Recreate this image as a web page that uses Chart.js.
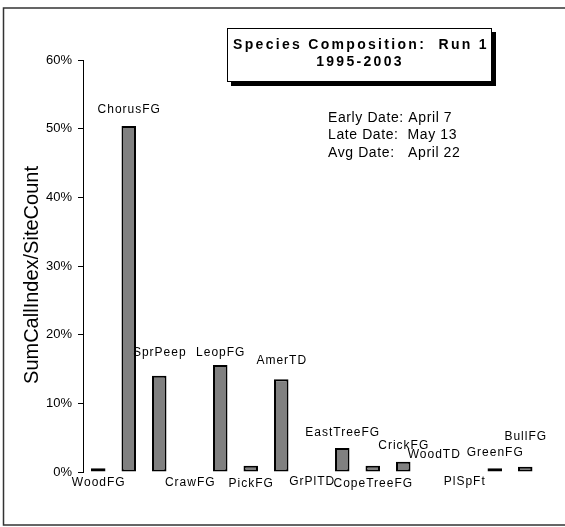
<!DOCTYPE html>
<html>
<head>
<meta charset="utf-8">
<script src="https://cdn.jsdelivr.net/npm/chart.js@4.4.1/dist/chart.umd.min.js"></script>
<style>
  html, body { margin: 0; padding: 0; background: #fff; }
  #wrap { width: 565px; height: 527px; }
</style>
</head>
<body>
<div id="wrap"><canvas id="speciesChart" width="565" height="527"></canvas></div>
<script>
var species = ['WoodFG', 'ChorusFG', 'SprPeep', 'CrawFG', 'LeopFG', 'PickFG', 'AmerTD', 'GrPlTD',
  'EastTreeFG', 'CopeTreeFG', 'CrickFG', 'WoodTD', 'PlSpFt', 'GreenFG', 'BullFG'];
var callIndexPct = [0.55, 50.4, 14.0, 0, 15.6, 0.9, 13.5, 0, 3.5, 0.9, 1.5, 0, 0, 0.55, 0.75];
var yTicks = [0, 10, 20, 30, 40, 50, 60];
var titleLines = ['Species Composition:  Run 1', '1995-2003'];
var dateNotes = ['Early Date: April 7', 'Late Date:  May 13', 'Avg Date:   April 22'];
var yTitle = 'SumCallIndex/SiteCount';

// label placement: below the zero line or above the bar, and the gap in px
var labelBelow = [true, false, false, true, false, true, false, true, false, true, false, false, true, false, false];
var labelGap = [11, 16, 23, 11, 12, 12, 19, 10, 15, 12, 16, 17, 10, 16, 30];

(function() {
  var FONT = "'Liberation Sans', Arial, sans-serif";

  // 外枠と背景
  var framePlugin = {
    id: 'frame',
    beforeDraw: function(chart) {
      var ctx = chart.ctx;
      ctx.save();
      ctx.fillStyle = '#fff';
      ctx.fillRect(0, 0, chart.width, chart.height);
      ctx.strokeStyle = '#333';
      ctx.lineWidth = 1.5;
      ctx.strokeRect(3.5, 8, chart.width + 10, 517);
      ctx.restore();
    }
  };

  var notesPlugin = {
    id: 'notes',
    afterDraw: function(chart) {
      var ctx = chart.ctx;
      var area = chart.chartArea;
      ctx.save();

      // title box with drop shadow
      ctx.fillStyle = '#000';
      ctx.fillRect(231, 32, 265, 54);
      ctx.fillStyle = '#fff';
      ctx.fillRect(227, 28, 265, 54);
      ctx.strokeStyle = '#000';
      ctx.lineWidth = 1;
      ctx.strokeRect(227.5, 28.5, 264, 53);

      ctx.fillStyle = '#000';
      ctx.textAlign = 'center';
      ctx.textBaseline = 'middle';
      ctx.font = 'bold 14px ' + FONT;
      ctx.letterSpacing = '2.3px';
      ctx.fillText(titleLines[0], 361, 45);
      ctx.fillText(titleLines[1], 360, 62);

      // dates
      ctx.font = '14px ' + FONT;
      ctx.letterSpacing = '0.6px';
      ctx.textAlign = 'left';
      dateNotes.forEach(function(t, i) {
        ctx.fillText(t, 328, 118 + i * 17.5);
      });

      // y axis title
      ctx.save();
      ctx.translate(32, 275);
      ctx.rotate(-Math.PI / 2);
      ctx.textAlign = 'center';
      ctx.font = '20px ' + FONT;
      ctx.letterSpacing = '0px';
      ctx.fillText(yTitle, 0, 0);
      ctx.restore();

      // category labels next to each bar
      var meta = chart.getDatasetMeta(0);
      ctx.font = '12px ' + FONT;
      ctx.letterSpacing = '1px';
      ctx.textAlign = 'center';
      meta.data.forEach(function(bar, i) {
        var y = labelBelow[i] ? area.bottom + labelGap[i] : bar.y - labelGap[i];
        ctx.fillText(species[i], bar.x + 0.5, y);
      });
      ctx.restore();
    }
  };

  var el = document.getElementById('speciesChart');
  new Chart(el, {
    type: 'bar',
    data: {
      labels: species,
      datasets: [{
        data: callIndexPct,
        backgroundColor: '#808080',
        borderColor: '#000',
        borderWidth: 2,
        borderSkipped: false,
        barPercentage: 0.475,
        categoryPercentage: 1
      }]
    },
    options: {
      responsive: false,
      animation: false,
      devicePixelRatio: 1,
      layout: { padding: { left: 0, top: 60, right: 24.5, bottom: 55 } },
      plugins: {
        legend: { display: false },
        tooltip: { enabled: false }
      },
      scales: {
        x: { display: false },
        y: {
          min: yTicks[0],
          max: yTicks[yTicks.length - 1],
          afterFit: function(scale) { scale.width = 83; },
          afterBuildTicks: function(scale) {
            scale.ticks = yTicks.map(function(v) { return { value: v }; });
          },
          ticks: {
            color: '#000',
            padding: 6,
            font: { family: FONT, size: 13 },
            callback: function(v) { return v + '%'; }
          },
          grid: { drawOnChartArea: false, drawTicks: true, tickLength: 5, color: '#000' },
          border: { display: true, color: '#000', width: 1 }
        }
      }
    },
    plugins: [framePlugin, notesPlugin]
  });
})();
</script>
</body>
</html>
